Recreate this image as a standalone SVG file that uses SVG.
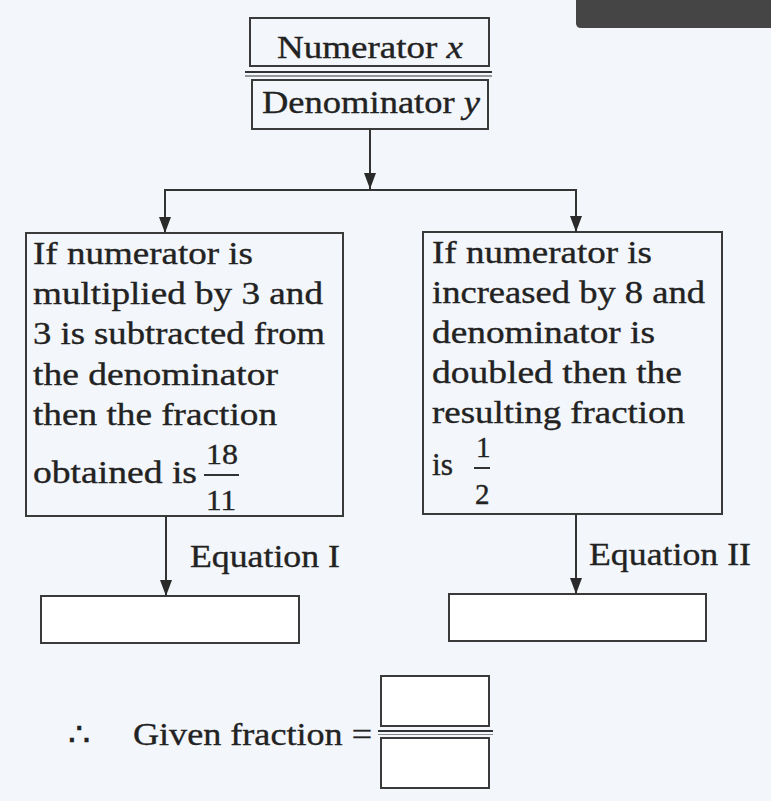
<svg xmlns="http://www.w3.org/2000/svg" width="771" height="801" viewBox="0 0 771 801">
<defs>
<style>
.box{fill:none;stroke:#3a3a3a;stroke-width:2}
.ans{fill:#ffffff;stroke:#3a3a3a;stroke-width:2}
.ln{fill:none;stroke:#333333;stroke-width:2}
.t{font-family:"Liberation Serif","Times New Roman",serif;font-size:32px;fill:#222222;stroke:#222222;stroke-width:0.35}
.fr{font-size:29px}
.it{font-style:italic}
</style>
<marker id="ah" viewBox="0 0 16 12" refX="16" refY="6" markerWidth="16" markerHeight="12" markerUnits="userSpaceOnUse" orient="auto">
<path d="M0,0 L16,6 L0,12 z" fill="#2a2a2a"/>
</marker>
</defs>
<rect x="0" y="0" width="771" height="801" fill="#f3f6fa"/>
<path d="M576,0 H771 V28 H581 Q576,28 576,23 Z" fill="#454545"/>

<g id="numerator">
<rect class="box" x="250" y="18" width="239" height="48"/>
<text class="t" x="277" y="58" textLength="186" lengthAdjust="spacingAndGlyphs">Numerator <tspan class="it">x</tspan></text>
</g>
<g id="fraction-bar">
<line x1="245" y1="72" x2="492" y2="72" stroke="#333" stroke-width="2.2"/>
<line x1="245" y1="76" x2="492" y2="76" stroke="#777" stroke-width="1.5"/>
</g>
<g id="denominator">
<rect class="box" x="252" y="80" width="236" height="49"/>
<text class="t" x="262" y="113" textLength="218" lengthAdjust="spacingAndGlyphs">Denominator <tspan class="it">y</tspan></text>
</g>

<g id="condition1">
<rect class="box" x="26" y="233" width="317" height="283"/>
<text class="t" x="33" y="264" textLength="220" lengthAdjust="spacingAndGlyphs">If numerator is</text>
<text class="t" x="33" y="304" textLength="290" lengthAdjust="spacingAndGlyphs">multiplied by 3 and</text>
<text class="t" x="33" y="344" textLength="292" lengthAdjust="spacingAndGlyphs">3 is subtracted from</text>
<text class="t" x="33" y="385" textLength="245" lengthAdjust="spacingAndGlyphs">the denominator</text>
<text class="t" x="33" y="425" textLength="244" lengthAdjust="spacingAndGlyphs">then the fraction</text>
<text class="t" x="33" y="483" textLength="164" lengthAdjust="spacingAndGlyphs">obtained is</text>
<text class="t fr" x="206" y="464" textLength="32" lengthAdjust="spacingAndGlyphs">18</text>
<line x1="204" y1="475" x2="239" y2="475" stroke="#333" stroke-width="2"/>
<text class="t fr" x="206" y="510" textLength="30" lengthAdjust="spacingAndGlyphs">11</text>
</g>

<g id="condition2">
<rect class="box" x="423" y="232" width="299" height="282"/>
<text class="t" x="432" y="263" textLength="220" lengthAdjust="spacingAndGlyphs">If numerator is</text>
<text class="t" x="432" y="303" textLength="273" lengthAdjust="spacingAndGlyphs">increased by 8 and</text>
<text class="t" x="432" y="343" textLength="223" lengthAdjust="spacingAndGlyphs">denominator is</text>
<text class="t" x="432" y="383" textLength="250" lengthAdjust="spacingAndGlyphs">doubled then the</text>
<text class="t" x="432" y="423" textLength="253" lengthAdjust="spacingAndGlyphs">resulting fraction</text>
<text class="t" x="432" y="475" textLength="21" lengthAdjust="spacingAndGlyphs">is</text>
<text class="t fr" x="476" y="457">1</text>
<line x1="474" y1="468" x2="490" y2="468" stroke="#333" stroke-width="2"/>
<text class="t fr" x="475" y="504">2</text>
</g>

<g id="equation1-box">
<rect class="ans" x="41" y="596" width="258" height="47"/>
</g>
<g id="equation2-box">
<rect class="ans" x="449" y="594" width="257" height="47"/>
</g>

<g id="connectors">
<line class="ln" x1="370" y1="129" x2="370" y2="189" marker-end="url(#ah)"/>
<line class="ln" x1="164" y1="190" x2="577" y2="190"/>
<line class="ln" x1="165" y1="189" x2="165" y2="233" marker-end="url(#ah)"/>
<line class="ln" x1="576" y1="189" x2="576" y2="232" marker-end="url(#ah)"/>
<line class="ln" x1="166" y1="516" x2="166" y2="596" marker-end="url(#ah)"/>
<line class="ln" x1="576" y1="514" x2="576" y2="594" marker-end="url(#ah)"/>
<text class="t" x="190" y="567" textLength="150" lengthAdjust="spacingAndGlyphs">Equation I</text>
<text class="t" x="589" y="565" textLength="162" lengthAdjust="spacingAndGlyphs">Equation II</text>
</g>

<g id="result">
<text class="t" x="68" y="745" textLength="22" lengthAdjust="spacingAndGlyphs">∴</text>
<text class="t" x="133" y="745" textLength="239" lengthAdjust="spacingAndGlyphs">Given fraction =</text>
<rect class="ans" x="381" y="676" width="108" height="50"/>
<line x1="378" y1="731" x2="493" y2="731" stroke="#333" stroke-width="2"/>
<line x1="378" y1="734.5" x2="493" y2="734.5" stroke="#888" stroke-width="1.2"/>
<rect class="ans" x="381" y="738" width="108" height="50"/>
</g>
</svg>
